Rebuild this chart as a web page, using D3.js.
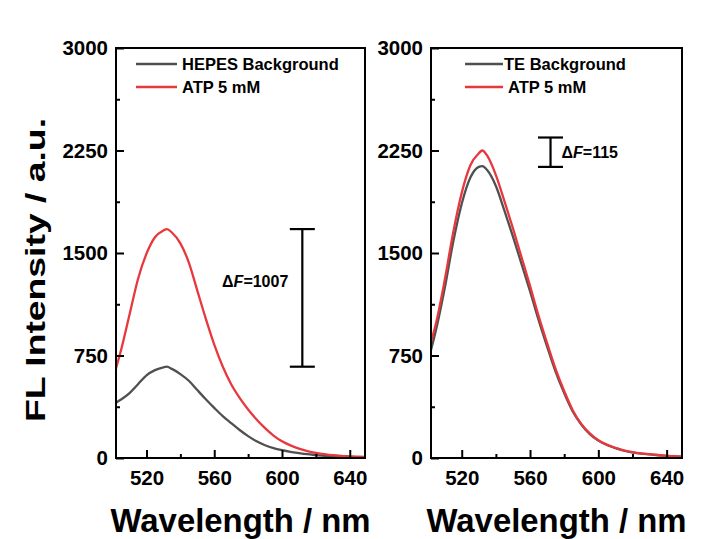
<!DOCTYPE html>
<html>
<head>
<meta charset="utf-8">
<script src="https://cdnjs.cloudflare.com/ajax/libs/d3/7.8.5/d3.min.js"></script>
<style>
  body { margin: 0; background: #fff; }
  svg text { font-family: Arial, "Liberation Sans", sans-serif; font-weight: bold; fill: #000; }
</style>
</head>
<body>
<svg id="chart" width="707" height="539"></svg>
<script>
// wavelengths (nm) shared by all four spectra
const wavelengths = [502, 505, 510, 515, 520, 525, 530, 532, 535, 540, 545, 550, 555, 560, 565, 570, 575,
                     580, 585, 590, 595, 600, 605, 610, 615, 620, 625, 630, 635, 640, 645, 649];

// left panel
const hepesBackground = [405, 428, 475, 540, 605, 643, 664, 668, 652, 614, 565, 497, 430, 367, 307, 255, 205,
                         160, 122, 93, 72, 57, 45, 36, 28, 22, 16, 12, 9, 7, 5, 4];
const hepesAtp = [656, 790, 1050, 1310, 1495, 1615, 1665, 1675, 1650, 1570, 1430, 1225, 1020, 830, 670, 540, 440,
                  355, 282, 218, 164, 122, 92, 68, 50, 38, 28, 20, 15, 12, 9, 8];

// right panel
const teBackground = [790, 940, 1240, 1580, 1860, 2050, 2130, 2135, 2105, 1990, 1810, 1620, 1420, 1220, 1010, 815, 630,
                      475, 340, 245, 175, 127, 95, 72, 53, 41, 32, 26, 20, 15, 11, 9];
const teAtp = [850, 990, 1300, 1650, 1940, 2140, 2230, 2250, 2210, 2070, 1880, 1680, 1470, 1260, 1040, 840, 650,
               490, 350, 250, 180, 130, 98, 75, 55, 43, 34, 28, 22, 16, 12, 10];

const xMajorTicks = [520, 560, 600, 640];
const xMinorTicks = [540, 580, 620];
const yMajorTicks = [0, 750, 1500, 2250, 3000];
const yMinorTicks = [375, 1125, 1875, 2625];

const legendLeft = ['HEPES Background', 'ATP 5 mM'];
const legendRight = ['TE Background', 'ATP 5 mM'];

// delta F annotations: wavelength of the bar, top and bottom intensity, label
const deltaLeft = { nm: 612, top: 1675, bottom: 668, label: '1007' };
const deltaRight = { nm: 572, top: 2345, bottom: 2130, label: '115' };

const grey = '#505050';
const red = '#e8383d';

const svg = d3.select('#chart');

const y = d3.scaleLinear().domain([0, 3000]).range([458, 48]);

function drawPanel(x0, x1, bg, atp, legend, delta, textLeft) {
    const x = d3.scaleLinear().domain([502, 649]).range([x0, x1]);
    const g = svg.append('g');

    const line = d3.line()
        .x((d, i) => x(wavelengths[i]))
        .y(d => y(d))
        .curve(d3.curveMonotoneX);

    g.append('path').datum(bg)
        .attr('d', line).attr('fill', 'none')
        .attr('stroke', grey).attr('stroke-width', 2.3);
    g.append('path').datum(atp)
        .attr('d', line).attr('fill', 'none')
        .attr('stroke', red).attr('stroke-width', 2.3);

    // inward ticks
    const yAxis = d3.axisLeft(y).tickValues(yMajorTicks).tickFormat(d3.format('d'))
        .tickSize(-8).tickPadding(8).tickSizeOuter(0);
    const yMinor = d3.axisLeft(y).tickValues(yMinorTicks).tickSize(-4).tickFormat('').tickSizeOuter(0);
    const xAxis = d3.axisBottom(x).tickValues(xMajorTicks).tickFormat(d3.format('d'))
        .tickSize(-8).tickPadding(12).tickSizeOuter(0);
    const xMinor = d3.axisBottom(x).tickValues(xMinorTicks).tickSize(-4).tickFormat('').tickSizeOuter(0);

    [yAxis, yMinor].forEach(a => {
        g.append('g').attr('transform', `translate(${x0},0)`).call(a);
    });
    [xAxis, xMinor].forEach(a => {
        g.append('g').attr('transform', `translate(0,${y(0)})`).call(a);
    });
    g.selectAll('.domain').remove();
    g.selectAll('.tick line').attr('stroke', '#000').attr('stroke-width', 2);
    g.selectAll('.tick text').style('font-size', '20.5px').attr('font-family', null);

    // frame
    g.append('rect')
        .attr('x', x0).attr('y', y(3000))
        .attr('width', x1 - x0).attr('height', y(0) - y(3000))
        .attr('fill', 'none').attr('stroke', '#000').attr('stroke-width', 2);

    // legend
    const lx = x0 + (textLeft ? 20 : 34);
    const lw = textLeft ? 41 : 38;
    legend.forEach((name, i) => {
        const ly = 64 + i * 23;
        g.append('line')
            .attr('x1', lx).attr('x2', lx + lw)
            .attr('y1', ly).attr('y2', ly)
            .attr('stroke', i === 0 ? grey : red).attr('stroke-width', 2.5);
        g.append('text')
            .attr('x', lx + lw + (textLeft ? 5 : (i === 0 ? 1 : 5)))
            .attr('y', ly + 6)
            .style('font-size', '16.5px')
            .text(name);
    });

    // delta F bar
    const bx = x(delta.nm);
    const cap = 12.5;
    const bar = g.append('g').attr('stroke', '#000').attr('stroke-width', 2.2);
    bar.append('line').attr('x1', bx).attr('x2', bx).attr('y1', y(delta.top)).attr('y2', y(delta.bottom));
    bar.append('line').attr('x1', bx - cap).attr('x2', bx + cap).attr('y1', y(delta.top)).attr('y2', y(delta.top));
    bar.append('line').attr('x1', bx - cap).attr('x2', bx + cap).attr('y1', y(delta.bottom)).attr('y2', y(delta.bottom));

    const t = g.append('text').style('font-size', '16px');
    if (textLeft) {
        t.attr('x', bx - 14).attr('y', y(1250)).attr('text-anchor', 'end');
    } else {
        t.attr('x', bx + 11).attr('y', (y(delta.top) + y(delta.bottom)) / 2 + 6);
    }
    t.append('tspan').text('Δ');
    t.append('tspan').style('font-style', 'italic').text('F');
    t.append('tspan').text('=' + delta.label);

    // x title
    svg.append('text')
        .attr('x', (x0 + x1) / 2).attr('y', 532)
        .attr('text-anchor', 'middle')
        .attr('textLength', 260).attr('lengthAdjust', 'spacingAndGlyphs')
        .style('font-size', '34px')
        .text('Wavelength / nm');
}

drawPanel(116, 365, hepesBackground, hepesAtp, legendLeft, deltaLeft, true);
drawPanel(431, 682, teBackground, teAtp, legendRight, deltaRight, false);

// y title
svg.append('text')
    .attr('transform', 'translate(45,270) rotate(-90)')
    .attr('text-anchor', 'middle')
    .attr('textLength', 304).attr('lengthAdjust', 'spacingAndGlyphs')
    .style('font-size', '28px')
    .text('FL Intensity / a.u.');
</script>
</body>
</html>
